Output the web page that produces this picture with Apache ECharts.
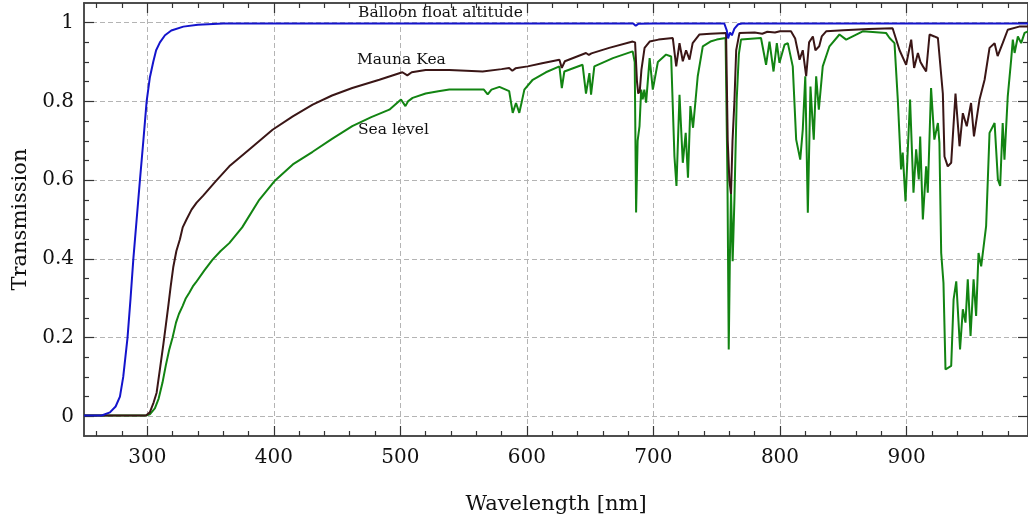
<!DOCTYPE html>
<html>
<head>
<meta charset="utf-8">
<script src="https://cdn.jsdelivr.net/npm/echarts@6/dist/echarts.min.js"></script>
<style>
  html, body { margin: 0; padding: 0; background: #fff; }
  #main { width: 1028px; height: 525px; }
</style>
</head>
<body>
<div id="main"></div>
<script>
// 刻度
const xTicks = [300, 400, 500, 600, 700, 800, 900];
const xMinorTicks = [260, 280, 320, 340, 360, 380, 420, 440, 460, 480, 520, 540, 560, 580,
  620, 640, 660, 680, 720, 740, 760, 780, 820, 840, 860, 880, 920, 940, 960, 980];
const yTicks = [0, 0.2, 0.4, 0.6, 0.8, 1];
const yMinorTicks = [0.05, 0.1, 0.15, 0.25, 0.3, 0.35, 0.45, 0.5, 0.55, 0.65, 0.7, 0.75,
  0.85, 0.9, 0.95];

// 气球高度 [波长 nm, 透过率]
const balloon = [
  [250, 0.002], [264, 0.002], [270.5, 0.01], [275, 0.025], [278.4, 0.05], [281, 0.1],
  [284.4, 0.2], [286.8, 0.3], [289, 0.4], [291.6, 0.5], [294.2, 0.6], [296.9, 0.7],
  [299.5, 0.8], [302, 0.86], [304.7, 0.9], [307, 0.93], [310, 0.95], [314, 0.968],
  [319, 0.98], [328.5, 0.99], [340, 0.995], [360, 0.998], [500, 0.998], [684, 0.998],
  [686, 0.992], [688, 0.997], [700, 0.998], [756, 0.998], [758, 0.98], [759, 0.96],
  [760.5, 0.975], [762, 0.968], [764, 0.985], [767, 0.996], [770, 0.998], [996, 0.998]
];

// 莫纳克亚
const maunaKea = [
  [250, 0.002], [299, 0.002], [302, 0.01], [305, 0.035], [307.4, 0.06], [310, 0.12],
  [312.6, 0.18], [314.6, 0.23], [316.6, 0.28], [318.5, 0.33], [320.6, 0.38], [323, 0.42],
  [325.8, 0.45], [328, 0.48], [331, 0.5], [335, 0.525], [339, 0.543], [344, 0.56],
  [354, 0.597], [364.8, 0.635], [380.6, 0.678], [399, 0.728], [415, 0.762], [430.7, 0.792],
  [446, 0.815], [462, 0.834], [483.4, 0.855], [501.6, 0.874], [505.5, 0.866], [509, 0.874],
  [520, 0.88], [538.7, 0.88], [552, 0.878], [565, 0.876], [580, 0.882], [586, 0.885],
  [588.5, 0.878], [591, 0.884], [600.6, 0.889], [612, 0.897], [625.7, 0.906], [627.6, 0.885],
  [630, 0.902], [646.7, 0.923], [649, 0.918], [651, 0.922], [665, 0.936], [683.6, 0.952],
  [685.5, 0.95], [687, 0.85], [688, 0.82], [689.2, 0.826], [690.5, 0.88], [693, 0.936],
  [697, 0.952], [704, 0.957], [715.3, 0.961], [718, 0.889], [720.6, 0.948], [723.2, 0.902],
  [725.8, 0.93], [728.5, 0.906], [731, 0.948], [736.4, 0.97], [745, 0.972], [757.4, 0.974],
  [758.7, 0.7], [760, 0.6], [761.3, 0.565], [762.5, 0.7], [764, 0.8], [765.4, 0.93],
  [768, 0.974], [780, 0.975], [786, 0.972], [790, 0.977], [796, 0.975], [800, 0.978],
  [808.7, 0.978], [812, 0.96], [815.5, 0.906], [818, 0.93], [820.7, 0.864], [823, 0.95],
  [826, 0.965], [828, 0.93], [831, 0.94], [833, 0.965], [836.5, 0.978], [850, 0.981],
  [870, 0.984], [889, 0.986], [894.5, 0.93], [899.7, 0.893], [903.7, 0.957], [906, 0.885],
  [909, 0.923], [911, 0.9], [913, 0.889], [915.5, 0.876], [918.2, 0.97], [922, 0.965],
  [924.8, 0.961], [928.7, 0.82], [930, 0.66], [932.6, 0.635], [935.3, 0.644], [938.7, 0.82],
  [941.9, 0.686], [944.5, 0.77], [947.6, 0.737], [951, 0.796], [953.3, 0.711], [957.7, 0.805],
  [961.7, 0.855], [965.6, 0.936], [969.6, 0.948], [972, 0.915], [976, 0.948], [980, 0.982],
  [989, 0.99], [996, 0.99]
];

// 海平面
const seaLevel = [
  [250, 0.002], [299, 0.002], [302, 0.005], [306, 0.02], [309, 0.045], [312, 0.085],
  [314.7, 0.13], [317.4, 0.17], [320, 0.2], [322.7, 0.238], [325, 0.26], [327.9, 0.28],
  [330.5, 0.3], [333.2, 0.314], [336, 0.33], [338.4, 0.34], [345, 0.37], [351.6, 0.398],
  [358, 0.42], [364.8, 0.44], [375, 0.48], [388.5, 0.55], [400.4, 0.597], [415, 0.64],
  [430.7, 0.672], [446, 0.705], [462, 0.737], [477, 0.76], [491.3, 0.779], [500.5, 0.805],
  [502, 0.8], [504, 0.788], [506, 0.8], [509.7, 0.809], [520, 0.82], [530, 0.826],
  [538.7, 0.83], [546.6, 0.83], [560, 0.83], [566, 0.83], [569, 0.818], [572, 0.83],
  [578.3, 0.837], [586, 0.826], [588.8, 0.771], [591.4, 0.796], [594, 0.771], [596, 0.8],
  [598, 0.83], [604.6, 0.855], [615, 0.874], [625.7, 0.889], [627.6, 0.834], [629.6, 0.876],
  [644, 0.893], [646.7, 0.82], [649.4, 0.872], [650.7, 0.817], [653.3, 0.889], [668, 0.91],
  [683.6, 0.927], [685.2, 0.9], [686.3, 0.518], [687.5, 0.7], [689, 0.737], [690.3, 0.83],
  [691.5, 0.805], [692.8, 0.83], [694.2, 0.797], [697, 0.91], [699.5, 0.83], [703.5, 0.9],
  [710, 0.919], [714, 0.914], [716.6, 0.66], [718.2, 0.585], [720.6, 0.817], [723.2, 0.644],
  [725.5, 0.72], [727.3, 0.606], [729.2, 0.788], [731.3, 0.733], [735, 0.864], [739, 0.94],
  [745, 0.952], [750, 0.957], [757, 0.961], [758.5, 0.6], [759.5, 0.17], [760.4, 0.4],
  [761.3, 0.568], [762.6, 0.394], [764, 0.55], [765.8, 0.805], [767.5, 0.92], [769.2, 0.957],
  [785, 0.961], [789, 0.893], [791.7, 0.952], [794.9, 0.876], [797.5, 0.948], [799.6, 0.898],
  [803.6, 0.944], [806.2, 0.948], [810.1, 0.889], [812.8, 0.703], [816, 0.652], [818, 0.728],
  [820, 0.864], [822, 0.517], [824.1, 0.838], [825.5, 0.762], [826.7, 0.703], [828.6, 0.864],
  [830.7, 0.779], [833.8, 0.889], [839.1, 0.94], [847, 0.97], [852.3, 0.957], [865.4, 0.978],
  [883.8, 0.974], [886.6, 0.961], [890.5, 0.948], [893.1, 0.805], [895.7, 0.627], [897, 0.67],
  [899.2, 0.546], [902.8, 0.805], [905.5, 0.568], [907.6, 0.678], [909.7, 0.602], [910.8, 0.711],
  [912.9, 0.5], [915.5, 0.635], [916.8, 0.568], [919.4, 0.834], [922, 0.703], [924.8, 0.745],
  [926, 0.695], [927.4, 0.415], [929.2, 0.339], [930.8, 0.119], [935.3, 0.128], [937.2, 0.297],
  [939.3, 0.343], [942.3, 0.17], [944.5, 0.272], [946.6, 0.238], [948.4, 0.348], [950.6, 0.204],
  [953, 0.348], [955, 0.255], [956.9, 0.415], [959, 0.381], [962.9, 0.483], [965.6, 0.72],
  [969.6, 0.745], [972.2, 0.602], [974, 0.585], [976, 0.745], [977.4, 0.652], [980, 0.813],
  [982.7, 0.906], [984, 0.957], [985.4, 0.923], [988, 0.965], [990.6, 0.948], [993.3, 0.974],
  [996, 0.978]
];

const FONT = "DejaVu Serif";
const X_MIN = 250, X_MAX = 996, Y_MIN = -0.05, Y_MAX = 1.05;
const frameLine = { show: true, onZero: false, lineStyle: { color: "#444", width: 1.5 } };
const gridDash = { show: true, lineStyle: { color: "#b4b4b4", type: [5, 3], width: 1 } };

// 坐标轴（主刻度 + 次刻度，上下左右各一条）
const makeX = (pos, ticks, len, main) => ({
  type: "value", position: pos, min: X_MIN, max: X_MAX,
  axisLine: frameLine,
  axisTick: { show: true, inside: true, length: len, customValues: ticks, lineStyle: { color: "#333", width: 1.2 } },
  axisLabel: main
    ? { show: true, customValues: ticks, margin: 12, color: "#111", fontFamily: FONT, fontSize: 20 }
    : { show: false },
  splitLine: main ? gridDash : { show: false },
  name: main ? "Wavelength [nm]" : "",
  nameLocation: "middle", nameGap: 58,
  nameTextStyle: { color: "#111", fontFamily: FONT, fontSize: 21 },
});
const makeY = (pos, ticks, len, main) => ({
  type: "value", position: pos, min: Y_MIN, max: Y_MAX,
  axisLine: frameLine,
  axisTick: { show: true, inside: true, length: len, customValues: ticks, lineStyle: { color: "#333", width: 1.2 } },
  axisLabel: main
    ? { show: true, customValues: ticks, margin: 10, color: "#111", fontFamily: FONT, fontSize: 20 }
    : { show: false },
  splitLine: main ? gridDash : { show: false },
  name: main ? "Transmission" : "",
  nameLocation: "middle", nameGap: 53,
  nameTextStyle: { color: "#111", fontFamily: FONT, fontSize: 21 },
});

const chart = echarts.init(document.getElementById("main"), null, { renderer: "canvas" });
chart.setOption({
  animation: false,
  grid: { left: 84, right: 0, top: 3, bottom: 89, containLabel: false },
  xAxis: [
    makeX("bottom", xTicks, 10, true),
    makeX("bottom", xMinorTicks, 5, false),
    makeX("top", xTicks, 10, false),
    makeX("top", xMinorTicks, 5, false),
  ],
  yAxis: [
    makeY("left", yTicks, 10, true),
    makeY("left", yMinorTicks, 5, false),
    makeY("right", yTicks, 10, false),
    makeY("right", yMinorTicks, 5, false),
  ],
  series: [
    {
      name: "Balloon float altitude", type: "line", data: balloon, showSymbol: false,
      lineStyle: { color: "#1414cc", width: 2 }, z: 3,
    },
    {
      name: "Mauna Kea", type: "line", data: maunaKea, showSymbol: false,
      lineStyle: { color: "#3a1616", width: 2 }, z: 2,
    },
    {
      name: "Sea level", type: "line", data: seaLevel, showSymbol: false,
      lineStyle: { color: "#128412", width: 2 }, z: 1,
    },
  ],
  graphic: [
    { type: "text", left: 358, top: 5, style: { text: "Balloon float altitude", font: "15.5px " + FONT, fill: "#111" } },
    { type: "text", left: 357, top: 52, style: { text: "Mauna Kea", font: "15.5px " + FONT, fill: "#111" } },
    { type: "text", left: 358, top: 122, style: { text: "Sea level", font: "15.5px " + FONT, fill: "#111" } },
  ],
});
</script>
</body>
</html>
